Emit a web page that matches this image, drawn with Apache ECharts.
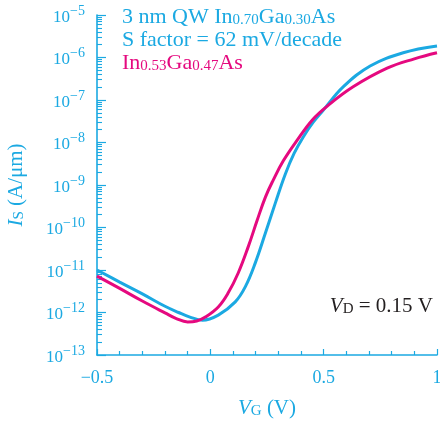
<!DOCTYPE html>
<html>
<head>
<meta charset="utf-8">
<script src="https://cdn.jsdelivr.net/npm/echarts@6/dist/echarts.min.js"></script>
<style>
  html, body { margin: 0; padding: 0; background: #ffffff; }
  #chart { width: 440px; height: 423px; }
</style>
</head>
<body>
<div id="chart"></div>
<script>
// Transfer characteristics: source current vs gate voltage at VD = 0.15 V
const gateVoltageQW = [-0.5, -0.4, -0.3, -0.2, -0.14, -0.09, -0.035, 0.035, 0.11, 0.154, 0.198, 0.243,
  0.287, 0.331, 0.37, 0.41, 0.454, 0.498, 0.586, 0.705, 0.851, 1.0];
const currentQW = [1.0e-11, 5.2e-12, 2.75e-12, 1.4e-12, 1.0e-12, 7.8e-13, 6.6e-13, 8.7e-13, 1.78e-12, 4.0e-12,
  1.45e-11, 7.4e-11, 3.8e-10, 1.82e-9, 5.6e-9, 1.35e-8, 3.0e-8, 5.75e-8, 2.04e-7, 6.3e-7, 1.29e-6, 1.86e-6];

const gateVoltageBulk = [-0.5, -0.4, -0.3, -0.2, -0.15, -0.1, -0.06, -0.022, 0.035, 0.079, 0.123, 0.167,
  0.207, 0.243, 0.278, 0.322, 0.384, 0.45, 0.516, 0.63, 0.78, 0.9, 1.0];
const currentBulk = [7.2e-12, 3.7e-12, 1.86e-12, 9.8e-13, 7.2e-13, 6.0e-13, 6.3e-13, 7.8e-13, 1.35e-12, 2.9e-12,
  8.5e-12, 3.5e-11, 1.5e-10, 5.2e-10, 1.32e-9, 3.7e-9, 1.15e-8, 3.4e-8, 7.2e-8, 2.04e-7, 5.6e-7, 9.3e-7, 1.29e-6];

// Axis ticks
const xTicks = [-0.5, 0, 0.5, 1];
const xTickLabels = ['\u22120.5', '0', '0.5', '1'];
const yDecadeExponents = [-13, -12, -11, -10, -9, -8, -7, -6, -5];

const CYAN = '#1BA9E2';
const MAGENTA = '#E5097F';
const INK = '#231F20';
const FONT = 'Liberation Serif';

const yMajor = yDecadeExponents.map(e => Math.pow(10, e));
const yMinor = [];
for (let i = 0; i < yDecadeExponents.length - 1; i++) {
  for (let m = 2; m <= 9; m++) yMinor.push(m * Math.pow(10, yDecadeExponents[i]));
}

const pairs = (xs, ys) => xs.map((x, i) => [x, ys[i]]);

const chart = echarts.init(document.getElementById('chart'), null, { renderer: 'canvas' });

const supRich = {
  b: { fontFamily: FONT, fontSize: 17, color: CYAN, lineHeight: 22, verticalAlign: 'bottom' },
  s: { fontFamily: FONT, fontSize: 14, color: CYAN, lineHeight: 18, verticalAlign: 'top' }
};

const subRich = (color, size, subSize) => ({
  m: { fontFamily: FONT, fontSize: size, color: color, fill: color, lineHeight: size + 3, verticalAlign: 'bottom' },
  i: { fontFamily: FONT, fontSize: size, color: color, fill: color, fontStyle: 'italic', lineHeight: size + 3, verticalAlign: 'bottom' },
  s: { fontFamily: FONT, fontSize: subSize, color: color, fill: color, lineHeight: subSize, verticalAlign: 'bottom' }
});

const logAxisBase = {
  type: 'log',
  logBase: 10,
  min: 1e-13,
  max: 1e-5,
  position: 'left',
  splitLine: { show: false }
};

chart.setOption({
  animation: false,
  backgroundColor: '#ffffff',
  grid: { left: 97, right: 3, top: 15, bottom: 68, containLabel: false, outerBoundsMode: 'none' },
  xAxis: {
    type: 'value',
    min: -0.5,
    max: 1,
    interval: 0.5,
    name: '{i|V}{s|G}{m| (V)}',
    nameLocation: 'middle',
    nameGap: 40,
    nameMoveOverlap: false,
    nameTextStyle: { rich: subRich(CYAN, 21, 15) },
    axisLine: { show: true, onZero: false, lineStyle: { color: CYAN, width: 1.6 } },
    axisTick: { show: true, inside: true, length: 6, lineStyle: { color: CYAN, width: 1.2 } },
    minorTick: { show: true, splitNumber: 5, length: 4, lineStyle: { color: CYAN, width: 1.2 } },
    splitLine: { show: false },
    minorSplitLine: { show: false },
    axisLabel: {
      margin: 14,
      fontFamily: FONT,
      fontSize: 18,
      color: CYAN,
      formatter: v => {
        const k = xTicks.findIndex(t => Math.abs(t - v) < 1e-9);
        return k >= 0 ? xTickLabels[k] : '';
      }
    }
  },
  yAxis: [
    Object.assign({}, logAxisBase, {
      name: '{i|I}{s|S}{m| (A/\u03bcm)}',
      nameLocation: 'middle',
      nameGap: 70,
      nameRotate: 90,
      nameMoveOverlap: false,
      nameTextStyle: { rich: subRich(CYAN, 21, 15) },
      axisLine: { show: true, onZero: false, lineStyle: { color: CYAN, width: 1.6 } },
      axisTick: { show: true, inside: true, length: 9, customValues: yMajor, lineStyle: { color: CYAN, width: 1.2 } },
      axisLabel: {
        margin: 12,
        customValues: yMajor,
        formatter: v => '{b|10}{s|\u2212' + Math.abs(Math.round(Math.log10(v))) + '}',
        rich: supRich
      }
    }),
    Object.assign({}, logAxisBase, {
      axisLine: { show: false, onZero: false },
      axisTick: { show: true, inside: true, length: 5, customValues: yMinor, lineStyle: { color: CYAN, width: 1.1 } },
      axisLabel: { show: false }
    })
  ],
  series: [
    {
      name: '3 nm QW In0.70Ga0.30As',
      type: 'line',
      yAxisIndex: 0,
      data: pairs(gateVoltageQW, currentQW),
      showSymbol: false,
      smooth: 0.4,
      lineStyle: { color: CYAN, width: 3 },
      z: 2
    },
    {
      name: 'In0.53Ga0.47As',
      type: 'line',
      yAxisIndex: 0,
      data: pairs(gateVoltageBulk, currentBulk),
      showSymbol: false,
      smooth: 0.4,
      lineStyle: { color: MAGENTA, width: 3 },
      z: 3
    }
  ],
  graphic: [
    {
      type: 'text', x: 122, y: 28,
      style: {
        text: '{m|3 nm QW In}{s|0.70}{m|Ga}{s|0.30}{m|As}',
        rich: subRich(CYAN, 22, 15),
        fill: CYAN,
        verticalAlign: 'bottom', align: 'left'
      }
    },
    {
      type: 'text', x: 122, y: 51,
      style: {
        text: '{m|S factor = 62 mV/decade}',
        rich: subRich(CYAN, 22, 15),
        fill: CYAN,
        verticalAlign: 'bottom', align: 'left'
      }
    },
    {
      type: 'text', x: 122, y: 74,
      style: {
        text: '{m|In}{s|0.53}{m|Ga}{s|0.47}{m|As}',
        rich: subRich(MAGENTA, 22, 15),
        fill: MAGENTA,
        verticalAlign: 'bottom', align: 'left'
      }
    },
    {
      type: 'text', x: 433, y: 317,
      style: {
        text: '{i|V}{s|D}{m| = 0.15 V}',
        rich: subRich(INK, 21, 15),
        fill: INK,
        verticalAlign: 'bottom', align: 'right'
      }
    }
  ]
});
</script>
</body>
</html>
